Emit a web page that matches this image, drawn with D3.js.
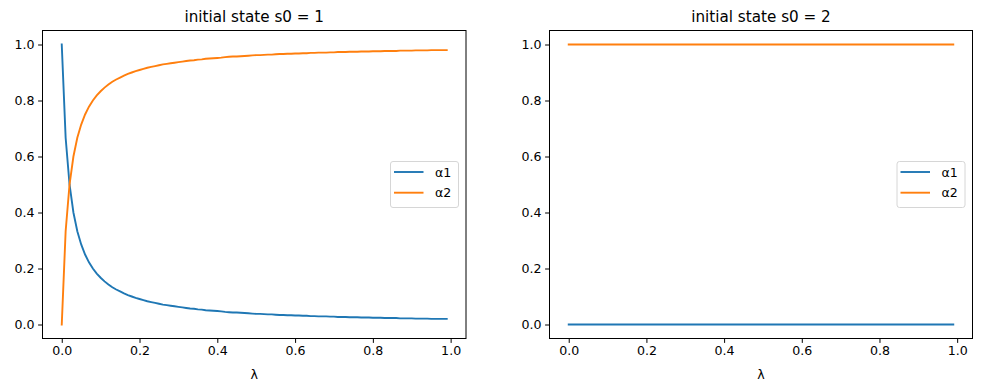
<!DOCTYPE html>
<html><head><meta charset="utf-8">
<script src="https://cdn.jsdelivr.net/npm/d3@7"></script>
<style>body{margin:0;background:#fff}svg{display:block;font-family:"DejaVu Sans",sans-serif}</style>
</head><body><svg id="c" width="981" height="391"></svg>
<script>
const lambdas = [0.00,0.01,0.02,0.03,0.04,0.05,0.06,0.07,0.08,0.09,0.10,0.11,0.12,0.13,0.14,0.15,0.16,0.17,0.18,0.19,
0.20,0.21,0.22,0.23,0.24,0.25,0.26,0.27,0.28,0.29,0.30,0.31,0.32,0.33,0.34,0.35,0.36,0.37,0.38,0.39,
0.40,0.41,0.42,0.43,0.44,0.45,0.46,0.47,0.48,0.49,0.50,0.51,0.52,0.53,0.54,0.55,0.56,0.57,0.58,0.59,
0.60,0.61,0.62,0.63,0.64,0.65,0.66,0.67,0.68,0.69,0.70,0.71,0.72,0.73,0.74,0.75,0.76,0.77,0.78,0.79,
0.80,0.81,0.82,0.83,0.84,0.85,0.86,0.87,0.88,0.89,0.90,0.91,0.92,0.93,0.94,0.95,0.96,0.97,0.98,0.99];
const alpha1_s1 = [1.000,0.667,0.500,0.400,0.333,0.286,0.250,0.222,0.200,0.182,0.167,0.154,0.143,0.133,0.125,0.118,0.111,0.105,0.100,0.095,
0.091,0.087,0.083,0.080,0.077,0.074,0.071,0.069,0.067,0.065,0.063,0.061,0.059,0.057,0.056,0.054,0.053,0.051,0.050,0.049,
0.048,0.047,0.045,0.044,0.043,0.043,0.042,0.041,0.040,0.039,0.038,0.038,0.037,0.036,0.036,0.035,0.034,0.034,0.033,0.033,
0.032,0.032,0.031,0.031,0.030,0.030,0.029,0.029,0.029,0.028,0.028,0.027,0.027,0.027,0.026,0.026,0.026,0.025,0.025,0.025,
0.024,0.024,0.024,0.023,0.023,0.023,0.023,0.022,0.022,0.022,0.022,0.021,0.021,0.021,0.021,0.020,0.020,0.020,0.020,0.020];
const alpha2_s1 = [0.000,0.333,0.500,0.600,0.667,0.714,0.750,0.778,0.800,0.818,0.833,0.846,0.857,0.867,0.875,0.882,0.889,0.895,0.900,0.905,
0.909,0.913,0.917,0.920,0.923,0.926,0.929,0.931,0.933,0.935,0.937,0.939,0.941,0.943,0.944,0.946,0.947,0.949,0.950,0.951,
0.952,0.953,0.955,0.956,0.957,0.957,0.958,0.959,0.960,0.961,0.962,0.962,0.963,0.964,0.964,0.965,0.966,0.966,0.967,0.967,
0.968,0.968,0.969,0.969,0.970,0.970,0.971,0.971,0.971,0.972,0.972,0.973,0.973,0.973,0.974,0.974,0.974,0.975,0.975,0.975,
0.976,0.976,0.976,0.977,0.977,0.977,0.977,0.978,0.978,0.978,0.978,0.979,0.979,0.979,0.979,0.980,0.980,0.980,0.980,0.980];
const alpha1_s2 = [0,0,0,0,0,0,0,0,0,0,0,0,0,0,0,0,0,0,0,0,0,0,0,0,0,0,0,0,0,0,0,0,0,0,0,0,0,0,0,0,0,0,0,0,0,0,0,0,0,0,
0,0,0,0,0,0,0,0,0,0,0,0,0,0,0,0,0,0,0,0,0,0,0,0,0,0,0,0,0,0,0,0,0,0,0,0,0,0,0,0,0,0,0,0,0,0,0,0,0,0];
const alpha2_s2 = [1,1,1,1,1,1,1,1,1,1,1,1,1,1,1,1,1,1,1,1,1,1,1,1,1,1,1,1,1,1,1,1,1,1,1,1,1,1,1,1,1,1,1,1,1,1,1,1,1,1,
1,1,1,1,1,1,1,1,1,1,1,1,1,1,1,1,1,1,1,1,1,1,1,1,1,1,1,1,1,1,1,1,1,1,1,1,1,1,1,1,1,1,1,1,1,1,1,1,1,1];
const xTicks = [0.0,0.2,0.4,0.6,0.8,1.0];
const yTicks = [0.0,0.2,0.4,0.6,0.8,1.0];
const seriesNames = ["α1","α2"];
const colors = ["#1f77b4","#ff7f0e"];
const titles = ["initial state s0 = 1","initial state s0 = 2"];
const xLabel = "λ";

const svg = d3.select("#c");
const panels = [
  {x0:42.5, x1:466, s:[alpha1_s1, alpha2_s1], title:titles[0]},
  {x0:549.5, x1:972.5, s:[alpha1_s2, alpha2_s2], title:titles[1]}
];
const y0 = 30.5, y1 = 338.5;
const fs = "12.6px";

panels.forEach(p => {
  const x = d3.scaleLinear().domain([-0.0495, 1.0395]).range([p.x0, p.x1]);
  const y = d3.scaleLinear().domain([-0.05, 1.05]).range([y1, y0]);
  const g = svg.append("g");
  const line = d3.line().x((d,i)=>x(lambdas[i])).y(d=>y(d));
  p.s.forEach((vals, k) => {
    g.append("path").datum(vals).attr("d", line).attr("fill","none")
      .attr("stroke", colors[k]).attr("stroke-width",1.9).attr("stroke-linecap","square");
  });
  const xa = g.append("g").attr("transform",`translate(0,${y1})`)
    .call(d3.axisBottom(x).tickValues(xTicks).tickFormat(d3.format(".1f")).tickSize(4.4).tickPadding(3.5));
  const ya = g.append("g").attr("transform",`translate(${p.x0},0)`)
    .call(d3.axisLeft(y).tickValues(yTicks).tickFormat(d3.format(".1f")).tickSize(4.4).tickPadding(3.5));
  [xa, ya].forEach(a => {
    a.select(".domain").remove();
    a.selectAll("line").attr("stroke","#000").attr("stroke-width",1);
    a.selectAll("text").attr("font-size",fs).attr("fill","#000").attr("font-family","DejaVu Sans");
  });
  g.append("rect").attr("x",p.x0).attr("y",y0).attr("width",p.x1-p.x0).attr("height",y1-y0)
    .attr("fill","none").attr("stroke","#000").attr("stroke-width",1);
  g.append("text").attr("x",(p.x0+p.x1)/2).attr("y",22).attr("text-anchor","middle")
    .attr("font-size","15.2px").text(p.title);
  g.append("text").attr("x",(p.x0+p.x1)/2).attr("y",379).attr("text-anchor","middle")
    .attr("font-size",fs).text(xLabel);
  // legend
  const lx = p.x1 - 75.5, ly = 161.5;
  const lg = g.append("g");
  lg.append("rect").attr("x",lx).attr("y",ly).attr("width",68).attr("height",46).attr("rx",2.5)
    .attr("fill","rgba(255,255,255,0.8)").attr("stroke","#d6d6d6").attr("stroke-width",1);
  seriesNames.forEach((n,k) => {
    const yy = ly + 10.5 + k*20.7;
    lg.append("line").attr("x1",lx+3.5).attr("x2",lx+33).attr("y1",yy).attr("y2",yy)
      .attr("stroke",colors[k]).attr("stroke-width",1.9);
    lg.append("text").attr("x",lx+44.5).attr("y",yy+4.5).attr("font-size",fs).text(n);
  });
});
</script></body></html>
